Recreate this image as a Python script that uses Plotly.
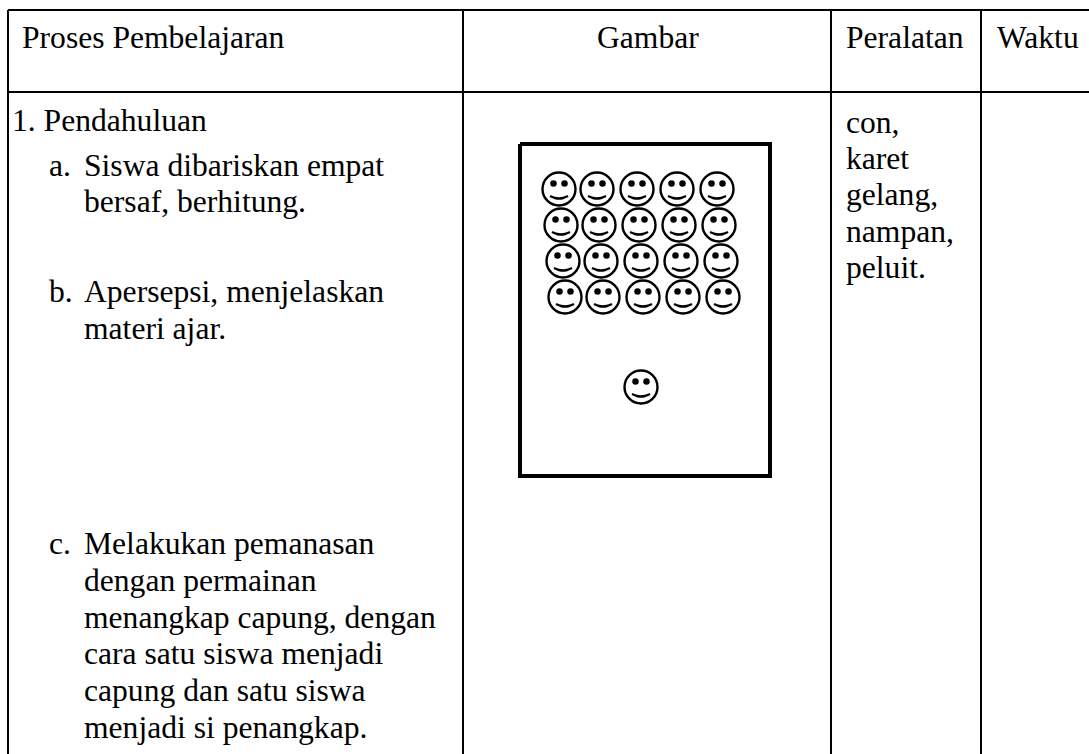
import plotly.graph_objects as go

W, H = 1089, 754
FONT = "Liberation Serif"
INK = "#000000"

# Table rules
table_h = [(8, 1089, 10), (8, 1089, 92)]
table_v = [(8, 10, 754), (463, 10, 754), (831, 10, 754), (981, 10, 754)]

# Text: x, centre y, string
texts = [
    (22, 40, "Proses Pembelajaran"), (597, 40, "Gambar"), (846, 40, "Peralatan"), (997, 40, "Waktu"),
    (12, 123.5, "1. Pendahuluan"),
    (49, 168.5, "a."), (84, 168.5, "Siswa dibariskan empat"), (84, 204.5, "bersaf, berhitung."),
    (49, 294.5, "b."), (84, 294.5, "Apersepsi, menjelaskan"), (84, 331.5, "materi ajar."),
    (49, 546, "c."), (84, 546, "Melakukan pemanasan"), (84, 583, "dengan permainan"),
    (84, 620, "menangkap capung, dengan"), (84, 656.5, "cara satu siswa menjadi"),
    (84, 693, "capung dan satu siswa"), (84, 730, "menjadi si penangkap."),
    (846, 125, "con,"), (846, 161, "karet"), (846, 197, "gelang,"), (846, 234, "nampan,"), (846, 270, "peluit."),
]

# Frame of the picture
frame_x = [520, 770, 770, 520, 520]
frame_y = [144, 144, 476, 476, 144]

# Face centres
face_rows = [
    (189, [559, 597, 637, 677, 717]),
    (225, [561, 599, 639, 679, 719]),
    (261, [563, 601, 641, 681, 721]),
    (297, [565, 603, 643, 683, 723]),
    (387, [641]),
]
faces = [(x, y) for y, xs in face_rows for x in xs]

fig = go.Figure()

for x0, x1, y in table_h:
    fig.add_trace(go.Scatter(x=[x0, x1], y=[y, y], mode="lines", line=dict(color=INK, width=2)))
for x, y0, y1 in table_v:
    fig.add_trace(go.Scatter(x=[x, x], y=[y0, y1], mode="lines", line=dict(color=INK, width=2)))

fig.add_trace(go.Scatter(x=frame_x, y=frame_y, mode="lines", line=dict(color=INK, width=4)))

fig.add_trace(go.Scatter(
    x=[f[0] for f in faces], y=[f[1] for f in faces], mode="markers",
    marker=dict(symbol="circle-open", size=33, color=INK, line=dict(color=INK, width=2.4)),
))
eye_x, eye_y = [], []
for x, y in faces:
    eye_x += [x - 5.5, x + 5.5]
    eye_y += [y - 5.5, y - 5.5]
fig.add_trace(go.Scatter(x=eye_x, y=eye_y, mode="markers", marker=dict(size=6.5, color=INK)))
m_x, m_y = [], []
for x, y in faces:
    m_x += [x - 9, x - 4, x, x + 4, x + 9, None]
    m_y += [y + 7, y + 9, y + 9.5, y + 9, y + 7, None]
fig.add_trace(go.Scatter(x=m_x, y=m_y, mode="lines", line=dict(color=INK, width=2.4, shape="spline")))

fig.add_trace(go.Scatter(
    x=[t[0] for t in texts], y=[t[1] for t in texts], text=[t[2] for t in texts],
    mode="text", textposition="middle right",
    textfont=dict(family=FONT, size=31.6, color=INK),
))

fig.update_layout(
    width=W, height=H, margin=dict(l=0, r=0, t=0, b=0),
    paper_bgcolor="white", plot_bgcolor="white", showlegend=False,
    xaxis=dict(range=[0, W], visible=False, fixedrange=True),
    yaxis=dict(range=[H, 0], visible=False, fixedrange=True),
)
fig.write_html(
    "out.html",
    config={"displayModeBar": False},
    post_script="document.body.style.margin='0';document.documentElement.style.overflow='hidden';",
)
